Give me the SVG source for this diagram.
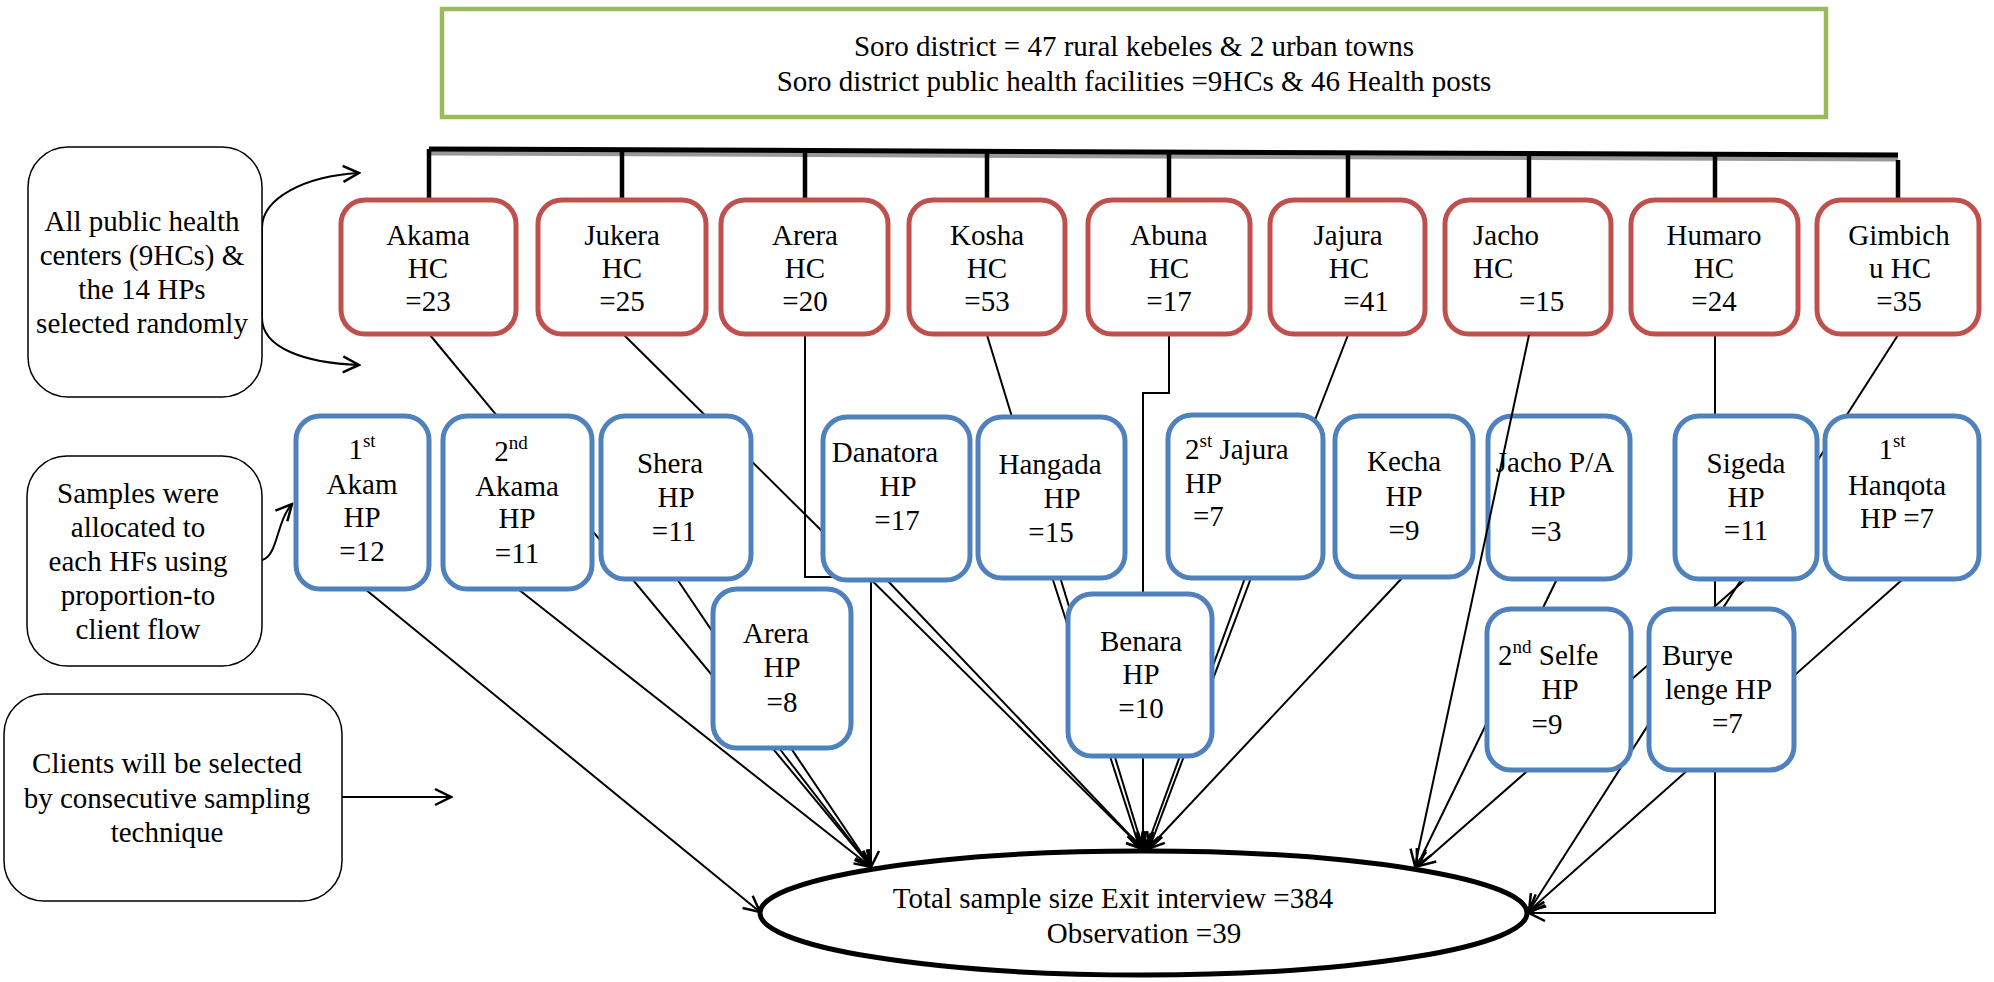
<svg xmlns="http://www.w3.org/2000/svg" width="1994" height="982" viewBox="0 0 1994 982" font-family="Liberation Serif" font-size="29">
<defs>
<marker id="arr" viewBox="0 0 20 20" refX="18" refY="10" markerWidth="20" markerHeight="20" orient="auto" markerUnits="userSpaceOnUse">
<path d="M2,2 L18,10 L2,18" fill="none" stroke="#000" stroke-width="2.5"/>
</marker>
</defs>
<style>
.hc{fill:#fff;stroke:#C0504D;stroke-width:5}
.hp{fill:#fff;stroke:#4F81BD;stroke-width:5}
.note{fill:#fff;stroke:#000;stroke-width:1.5}
.t{fill:#000}
.c{text-anchor:middle}
.ln{fill:none;stroke:#000;stroke-width:2}
.a{marker-end:url(#arr)}
.drop{stroke:#000;stroke-width:4.5}
</style>
<rect width="1994" height="982" fill="#fff"/>

<g id="connectors">
<line x1="429" y1="153" x2="1898" y2="159" stroke="#999" stroke-width="5"/>
<line x1="429" y1="149" x2="1898" y2="155" stroke="#000" stroke-width="5"/>
<line class="drop" x1="429" y1="149" x2="429" y2="200"/>
<line class="drop" x1="622" y1="150" x2="622" y2="200"/>
<line class="drop" x1="805" y1="151" x2="805" y2="200"/>
<line class="drop" x1="987" y1="151" x2="987" y2="200"/>
<line class="drop" x1="1169" y1="152" x2="1169" y2="200"/>
<line class="drop" x1="1348" y1="152" x2="1348" y2="200"/>
<line class="drop" x1="1529" y1="153" x2="1529" y2="200"/>
<line class="drop" x1="1715" y1="154" x2="1715" y2="200"/>
<line class="drop" x1="1898" y1="160" x2="1898" y2="200"/>

<path class="ln a" d="M262,273 V228 C262,198 305,176 359,173"/>
<path class="ln a" d="M262,273 V318 C262,348 305,363 359,365"/>
<path class="ln a" d="M262,560 C278,556 276,522 292,504"/>
<path class="ln a" d="M342,797 H451"/>

<path class="ln a" d="M430,335 L871,867"/>
<path class="ln a" d="M624,335 L1143,849"/>
<path class="ln a" d="M805,335 V577 H871 V867"/>
<path class="ln" d="M987,335 L1012,417"/>
<path class="ln a" d="M1169,335 V393 H1143 V849"/>
<path class="ln" d="M1348,335 L1315,420"/>
<path class="ln a" d="M1715,335 V913 H1529"/>
<path class="ln a" d="M1898,335 L1529,911"/>
<path class="ln a" d="M365,589 L760,912"/>
<path class="ln a" d="M518,589 L871,867"/>
<path class="ln a" d="M677,579 L871,867"/>
<path class="ln a" d="M779,748 L871,867"/>
<path class="ln a" d="M887,580 L1143,849"/>
<path class="ln a" d="M1052,577 L1140,849"/>
<path class="ln a" d="M1060,577 L1143,849"/>
<path class="ln a" d="M1245,578 L1146,849"/>
<path class="ln a" d="M1251,578 L1149,849"/>
<path class="ln a" d="M1403,577 L1148,849"/>
<path class="ln a" d="M1557,579 L1417,866"/>
<path class="ln a" d="M1746,579 L1419,866"/>
<path class="ln a" d="M1903,579 L1529,911"/>
</g>

<g id="district">
<rect x="442" y="9" width="1384" height="108" fill="#fff" stroke="#9BBB59" stroke-width="4.5"/>
<text class="t c" x="1134" y="56" font-family="Liberation Serif">Soro district = 47 rural kebeles &amp; 2 urban towns</text>
<text class="t c" x="1134" y="91" font-family="Liberation Serif">Soro district public health facilities =9HCs &amp; 46 Health posts</text>
</g>

<g id="note-selection">
<rect class="note" x="28" y="147" width="234" height="250" rx="40"/>
<text class="t c" font-family="Liberation Serif"><tspan x="142" y="231">All public health</tspan><tspan x="142" y="265">centers (9HCs) &amp;</tspan><tspan x="142" y="299">the 14 HPs</tspan><tspan x="142" y="333">selected randomly</tspan></text>
</g>
<g id="note-allocation">
<rect class="note" x="27" y="456" width="235" height="210" rx="40"/>
<text class="t c" font-family="Liberation Serif"><tspan x="138" y="503">Samples were</tspan><tspan x="138" y="537">allocated to</tspan><tspan x="138" y="571">each HFs using</tspan><tspan x="138" y="605">proportion-to</tspan><tspan x="138" y="639">client flow</tspan></text>
</g>
<g id="note-clients">
<rect class="note" x="4" y="694" width="338" height="207" rx="40"/>
<text class="t c" font-family="Liberation Serif"><tspan x="167" y="773">Clients will be selected</tspan><tspan x="167" y="808">by consecutive sampling</tspan><tspan x="167" y="842">technique</tspan></text>
</g>

<g id="hc-akama"><rect class="hc" x="341" y="200" width="175" height="134" rx="24"/>
<text class="t c" font-family="Liberation Serif"><tspan x="428" y="245">Akama</tspan><tspan x="428" y="278">HC</tspan><tspan x="428" y="311">=23</tspan></text></g>
<g id="hc-jukera"><rect class="hc" x="538" y="200" width="168" height="134" rx="24"/>
<text class="t c" font-family="Liberation Serif"><tspan x="622" y="245">Jukera</tspan><tspan x="622" y="278">HC</tspan><tspan x="622" y="311">=25</tspan></text></g>
<g id="hc-arera"><rect class="hc" x="721" y="200" width="167" height="134" rx="24"/>
<text class="t c" font-family="Liberation Serif"><tspan x="805" y="245">Arera</tspan><tspan x="805" y="278">HC</tspan><tspan x="805" y="311">=20</tspan></text></g>
<g id="hc-kosha"><rect class="hc" x="909" y="200" width="156" height="134" rx="24"/>
<text class="t c" font-family="Liberation Serif"><tspan x="987" y="245">Kosha</tspan><tspan x="987" y="278">HC</tspan><tspan x="987" y="311">=53</tspan></text></g>
<g id="hc-abuna"><rect class="hc" x="1088" y="200" width="162" height="134" rx="24"/>
<text class="t c" font-family="Liberation Serif"><tspan x="1169" y="245">Abuna</tspan><tspan x="1169" y="278">HC</tspan><tspan x="1169" y="311">=17</tspan></text></g>
<g id="hc-jajura"><rect class="hc" x="1270" y="200" width="155" height="134" rx="24"/>
<text class="t c" font-family="Liberation Serif"><tspan x="1348" y="245">Jajura</tspan><tspan x="1349" y="278">HC</tspan><tspan x="1366" y="311">=41</tspan></text></g>
<g id="hc-jacho"><rect class="hc" x="1445" y="200" width="166" height="134" rx="24"/>
<text class="t" font-family="Liberation Serif"><tspan x="1473" y="245">Jacho</tspan><tspan x="1473" y="278">HC</tspan><tspan x="1519" y="311">=15</tspan></text></g>
<g id="hc-humaro"><rect class="hc" x="1631" y="200" width="167" height="134" rx="24"/>
<text class="t c" font-family="Liberation Serif"><tspan x="1714" y="245">Humaro</tspan><tspan x="1714" y="278">HC</tspan><tspan x="1714" y="311">=24</tspan></text></g>
<g id="hc-gimbichu"><rect class="hc" x="1817" y="200" width="162" height="134" rx="24"/>
<text class="t c" font-family="Liberation Serif"><tspan x="1899" y="245">Gimbich</tspan><tspan x="1900" y="278">u HC</tspan><tspan x="1899" y="311">=35</tspan></text></g>

<g id="hp-1st-akam"><rect class="hp" x="296" y="416" width="133" height="173" rx="24"/>
<text class="t c" x="362" y="459" font-family="Liberation Serif">1<tspan dy="-12" font-size="19">st</tspan></text>
<text class="t c" font-family="Liberation Serif"><tspan x="362" y="494">Akam</tspan><tspan x="362" y="527">HP</tspan><tspan x="362" y="561">=12</tspan></text></g>
<g id="hp-2nd-akama"><rect class="hp" x="443" y="416" width="149" height="173" rx="24"/>
<text class="t c" x="511" y="461" font-family="Liberation Serif">2<tspan dy="-12" font-size="19">nd</tspan></text>
<text class="t c" font-family="Liberation Serif"><tspan x="517" y="496">Akama</tspan><tspan x="517" y="528">HP</tspan><tspan x="517" y="563">=11</tspan></text></g>
<g id="hp-shera"><rect class="hp" x="601" y="416" width="150" height="163" rx="24"/>
<text class="t c" font-family="Liberation Serif"><tspan x="670" y="473">Shera</tspan><tspan x="676" y="507">HP</tspan><tspan x="674" y="541">=11</tspan></text></g>
<g id="hp-danatora"><rect class="hp" x="823" y="417" width="147" height="163" rx="24"/>
<text class="t c" font-family="Liberation Serif"><tspan x="885" y="462">Danatora</tspan><tspan x="898" y="496">HP</tspan><tspan x="897" y="530">=17</tspan></text></g>
<g id="hp-hangada"><rect class="hp" x="978" y="417" width="147" height="161" rx="24"/>
<text class="t c" font-family="Liberation Serif"><tspan x="1050" y="474">Hangada</tspan><tspan x="1062" y="508">HP</tspan><tspan x="1051" y="542">=15</tspan></text></g>
<g id="hp-2nd-jajura"><rect class="hp" x="1168" y="415" width="155" height="163" rx="24"/>
<text class="t" x="1185" y="459" font-family="Liberation Serif">2<tspan dy="-12" font-size="19">st</tspan><tspan dy="12"> Jajura</tspan></text>
<text class="t" font-family="Liberation Serif"><tspan x="1185" y="493">HP</tspan><tspan x="1193" y="526">=7</tspan></text></g>
<g id="hp-kecha"><rect class="hp" x="1335" y="416" width="138" height="161" rx="24"/>
<text class="t c" font-family="Liberation Serif"><tspan x="1404" y="471">Kecha</tspan><tspan x="1404" y="506">HP</tspan><tspan x="1404" y="540">=9</tspan></text></g>
<g id="hp-jacho-pa"><rect class="hp" x="1488" y="416" width="142" height="163" rx="24"/>
<text class="t c" font-family="Liberation Serif"><tspan x="1555" y="472">Jacho P/A</tspan><tspan x="1547" y="506">HP</tspan><tspan x="1546" y="541">=3</tspan></text></g>
<g id="hp-sigeda"><rect class="hp" x="1675" y="416" width="142" height="163" rx="24"/>
<text class="t c" font-family="Liberation Serif"><tspan x="1746" y="473">Sigeda</tspan><tspan x="1746" y="507">HP</tspan><tspan x="1746" y="540">=11</tspan></text></g>
<g id="hp-1st-hanqota"><rect class="hp" x="1825" y="416" width="154" height="163" rx="24"/>
<text class="t c" x="1892" y="459" font-family="Liberation Serif">1<tspan dy="-12" font-size="19">st</tspan></text>
<text class="t c" font-family="Liberation Serif"><tspan x="1897" y="495">Hanqota</tspan><tspan x="1897" y="528">HP =7</tspan></text></g>

<g id="hp-arera"><rect class="hp" x="713" y="589" width="138" height="159" rx="24"/>
<text class="t c" font-family="Liberation Serif"><tspan x="776" y="643">Arera</tspan><tspan x="782" y="677">HP</tspan><tspan x="782" y="712">=8</tspan></text></g>
<g id="hp-benara"><rect class="hp" x="1068" y="594" width="144" height="162" rx="24"/>
<text class="t c" font-family="Liberation Serif"><tspan x="1141" y="651">Benara</tspan><tspan x="1141" y="684">HP</tspan><tspan x="1141" y="718">=10</tspan></text></g>
<g id="hp-2nd-selfe"><rect class="hp" x="1487" y="609" width="144" height="161" rx="24"/>
<text class="t" x="1498" y="665" font-family="Liberation Serif">2<tspan dy="-12" font-size="19">nd</tspan><tspan dy="12"> Selfe</tspan></text>
<text class="t c" font-family="Liberation Serif"><tspan x="1560" y="699">HP</tspan><tspan x="1547" y="734">=9</tspan></text></g>
<g id="hp-burye-lenge"><rect class="hp" x="1649" y="609" width="145" height="161" rx="24"/>
<text class="t" font-family="Liberation Serif"><tspan x="1662" y="665">Burye</tspan><tspan x="1665" y="699">lenge HP</tspan><tspan x="1712" y="733">=7</tspan></text></g>

<g id="connectors-over">
<path class="ln a" d="M1529,335 L1415,866"/>
</g>

<g id="total">
<ellipse cx="1143.5" cy="913" rx="383.5" ry="62" fill="#fff" stroke="#000" stroke-width="5"/>
<text class="t c" font-family="Liberation Serif"><tspan x="1113" y="908">Total sample size Exit interview =384</tspan><tspan x="1144" y="943">Observation =39</tspan></text>
</g>
</svg>
